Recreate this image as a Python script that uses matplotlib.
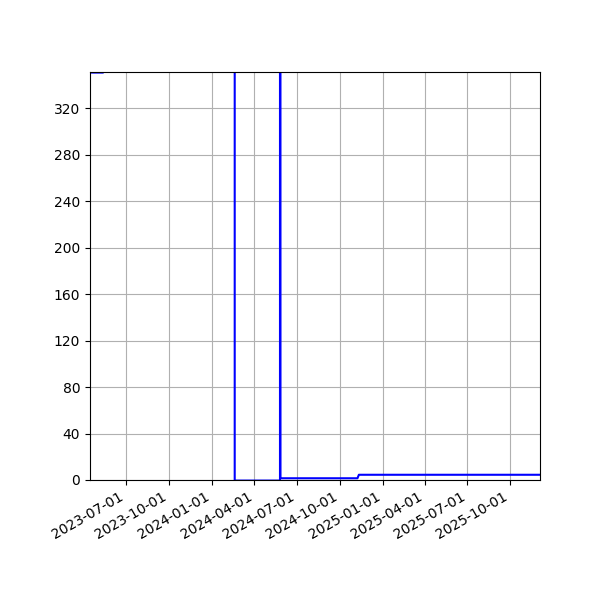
import matplotlib
matplotlib.use("Agg")
import matplotlib.pyplot as plt
import matplotlib.dates as mdates
import numpy as np

# daily-ish readings; values past the top are clipped by the y limit
dates = np.array(["2023-04-15", "2023-05-13", "2023-05-13", "2024-02-19",
                  "2024-02-19", "2024-05-26", "2024-05-26", "2024-05-27",
                  "2024-11-08", "2024-11-11", "2025-12-04"], dtype="datetime64[D]")
values = [350.5, 350.5, 5000, 5000, -0.5, -0.5, 5000, 1.5, 1.5, 4.5, 4.5]
y_ticks = [0, 40, 80, 120, 160, 200, 240, 280, 320]

fig, ax = plt.subplots(figsize=(6, 6), dpi=100)
ax.plot(dates, values, color="blue", linewidth=1.5)

ax.set_xlim(dates[0], dates[-1])
ax.set_ylim(0, 351)
ax.set_yticks(y_ticks)
ax.xaxis.set_major_locator(mdates.MonthLocator(bymonth=[1, 4, 7, 10]))
ax.xaxis.set_major_formatter(mdates.DateFormatter("%Y-%m-%d"))
ax.grid(True)
fig.autofmt_xdate()
plt.subplots_adjust(left=0.15, right=0.9, top=0.88, bottom=0.2)

plt.savefig("out.png")
